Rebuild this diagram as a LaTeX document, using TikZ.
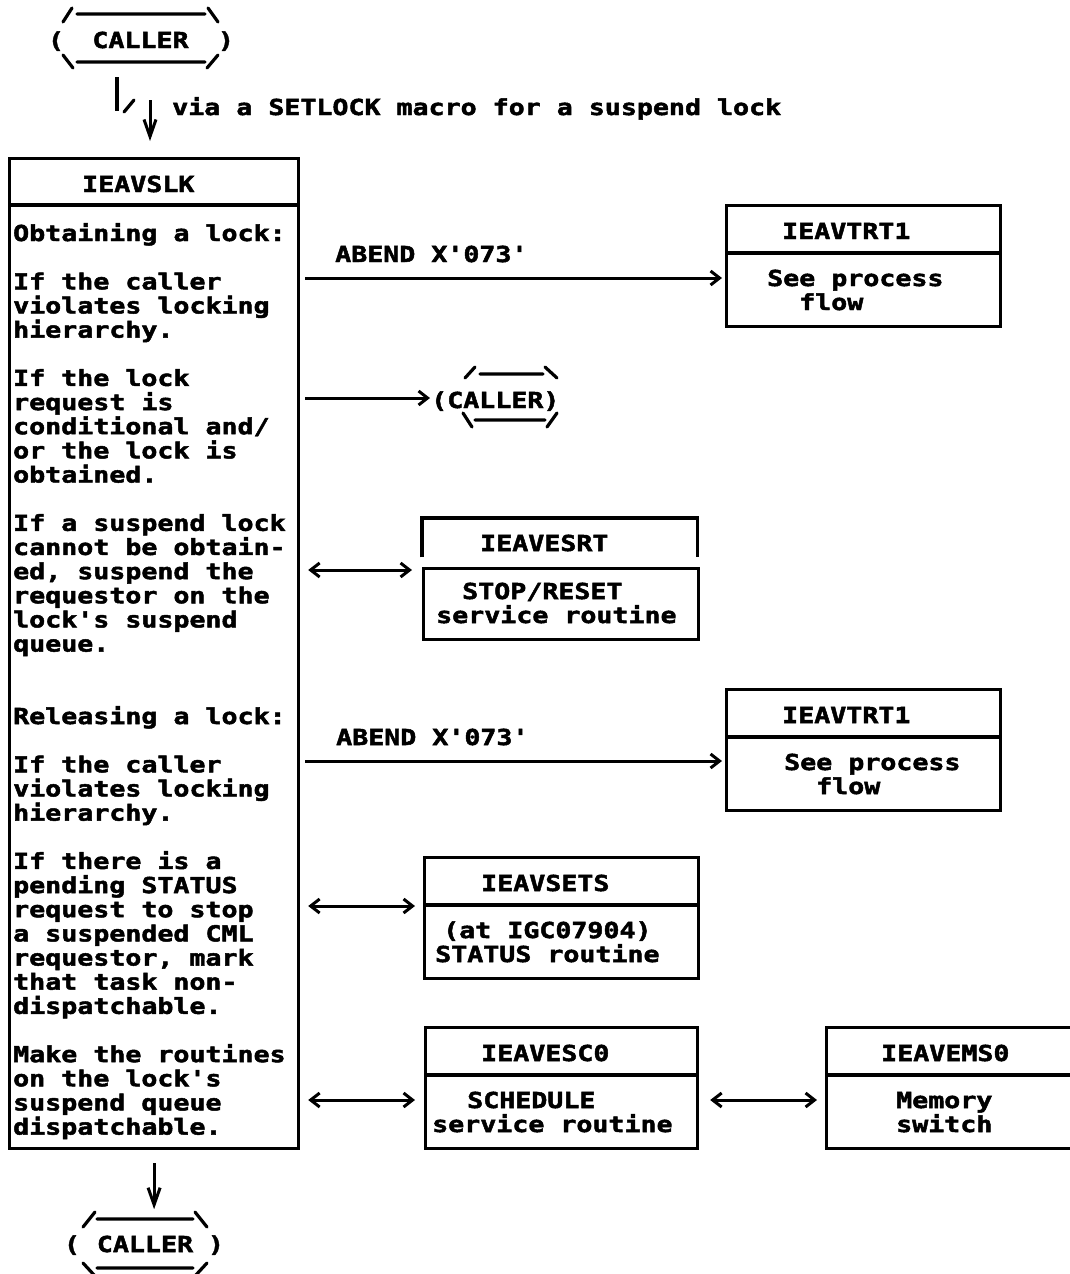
\documentclass[tikz,border=0pt]{standalone}
\usepackage{fontspec}
\usetikzlibrary{arrows.meta,calc}
\newfontfamily\chartmono[FakeStretch=1.21, BoldFeatures={FakeBold=2.2}]{DejaVu Sans Mono}
\begin{document}
\begin{tikzpicture}[x=1pt,y=-1pt,
  txt/.style={font=\chartmono\bfseries\fontsize{22}{24}\selectfont, inner sep=0pt, anchor=base west},
  frame/.style={draw, line width=3.2pt, inner sep=0pt, anchor=north west},
  rule/.style={line width=3.2pt, line join=miter},
  hex/.style={line width=3.2pt, line cap=round},
  arr/.style={line width=3pt, -{Straight Barb[length=9pt,width=14pt]}},
  darr/.style={line width=3pt, {Straight Barb[length=9pt,width=14pt]}-{Straight Barb[length=9pt,width=14pt]}},
  varr/.style={line width=3pt, -{Straight Barb[length=17pt,width=12pt]}}
]
\useasboundingbox (0,0) rectangle (1069,1274);

% ---- caller at the top
\node[txt, anchor=base] (callerTop) at (140.5,48) {CALLER};
\node[txt, anchor=base] (callerTopL) at (56,48) {(};
\node[txt, anchor=base] (callerTopR) at (226,48) {)};
\draw[hex] (63,22) -- (72,8) (77,14) -- (205,14) (208,8) -- (218,22)
           (63,55) -- (73,68) (77,62) -- (205,62) (207,68) -- (218,55);

% ---- entry via SETLOCK
\coordinate (entryA) at (117,77);
\draw[rule] (entryA) -- ++(0,34);
\draw[hex] (124,112) -- (134,100);
\coordinate (entryB) at (150,100);
\draw[varr] (entryB) -- ++(0,41);
\node[txt] (viaNote) at (172,115) {via a SETLOCK macro for a suspend lock};

% ---- IEAVSLK
\node[frame, minimum width=289pt, minimum height=990pt] (slk) at (8,157) {};
\draw[rule] ($(slk.north west)+(0,48)$) -- ($(slk.north east)+(0,48)$);
\node[txt] (slkName) at (82,192) {IEAVSLK};
\foreach \n/\s in {0/{Obtaining a lock:},
  2/{If the caller}, 3/{violates locking}, 4/{hierarchy.},
  6/{If the lock}, 7/{request is}, 8/{conditional and/}, 9/{or the lock is}, 10/{obtained.},
  12/{If a suspend lock}, 13/{cannot be obtain-}, 14/{ed, suspend the}, 15/{requestor on the}, 16/{lock's suspend}, 17/{queue.},
  20/{Releasing a lock:},
  22/{If the caller}, 23/{violates locking}, 24/{hierarchy.},
  26/{If there is a}, 27/{pending STATUS}, 28/{request to stop}, 29/{a suspended CML}, 30/{requestor, mark}, 31/{that task non-}, 32/{dispatchable.},
  34/{Make the routines}, 35/{on the lock's}, 36/{suspend queue}, 37/{dispatchable.}}
  \node[txt, name=slkLine\n] at (13,{241+24.15*\n}) {\s};

% ---- IEAVTRT1 (obtaining)
\node[frame, minimum width=274pt, minimum height=121pt] (trtA) at (725,204) {};
\draw[rule] ($(trtA.north west)+(0,49)$) -- ($(trtA.north east)+(0,49)$);
\node[txt] (trtAName) at (782,239) {IEAVTRT1};
\node[txt] (trtABodyA) at (767,286) {See process};
\node[txt] (trtABodyB) at (799,310) {flow};
\coordinate (abendAY) at (0,278);
\draw[arr] ([xshift=5pt]slk.east |- abendAY) -- ([xshift=-3pt]trtA.west |- abendAY);
\node[txt] (abendAText) at (335,262) {ABEND X'073'};

% ---- return to caller
\node[txt] (callerMid) at (431,408) {(CALLER)};
\coordinate (callerMidY) at (0,398);
\draw[arr] ([xshift=5pt]slk.east |- callerMidY) -- ([xshift=-1pt]callerMid.west |- callerMidY);
\draw[hex] (465,378) -- (475,367) (480,374) -- (543,374) (545,367) -- (557,378)
           (463,413) -- (472,427) (475,420) -- (545,420) (547,427) -- (557,413);

% ---- IEAVESRT (header left open at the bottom)
\node[inner sep=0pt, anchor=north west, minimum width=275pt, minimum height=39pt] (esrtHead) at (422,518) {};
\draw[rule] (esrtHead.south west) |- (esrtHead.north east) -- (esrtHead.south east);
\node[frame, minimum width=275pt, minimum height=71pt] (esrt) at (422,567) {};
\node[txt] (esrtName) at (480,551) {IEAVESRT};
\node[txt] (esrtBodyA) at (462,599) {STOP/RESET};
\node[txt] (esrtBodyB) at (436,623) {service routine};
\coordinate (esrtY) at (0,570);
\draw[darr] ([xshift=8pt]slk.east |- esrtY) -- ([xshift=-10pt]esrt.west |- esrtY);

% ---- IEAVTRT1 (releasing)
\node[frame, minimum width=274pt, minimum height=121pt] (trtB) at (725,688) {};
\draw[rule] ($(trtB.north west)+(0,49)$) -- ($(trtB.north east)+(0,49)$);
\node[txt] (trtBName) at (782,723) {IEAVTRT1};
\node[txt] (trtBBodyA) at (784,770) {See process};
\node[txt] (trtBBodyB) at (816,794) {flow};
\coordinate (abendBY) at (0,761);
\draw[arr] ([xshift=5pt]slk.east |- abendBY) -- ([xshift=-3pt]trtB.west |- abendBY);
\node[txt] (abendBText) at (336,745) {ABEND X'073'};

% ---- IEAVSETS
\node[frame, minimum width=274pt, minimum height=121pt] (sets) at (423,856) {};
\draw[rule] ($(sets.north west)+(0,49)$) -- ($(sets.north east)+(0,49)$);
\node[txt] (setsName) at (481,891) {IEAVSETS};
\node[txt] (setsBodyA) at (443,938) {(at IGC07904)};
\node[txt] (setsBodyB) at (435,962) {STATUS routine};
\coordinate (setsY) at (0,906);
\draw[darr] ([xshift=8pt]slk.east |- setsY) -- ([xshift=-8pt]sets.west |- setsY);

% ---- IEAVESC0
\node[frame, minimum width=272pt, minimum height=121pt] (esco) at (424,1026) {};
\draw[rule] ($(esco.north west)+(0,49)$) -- ($(esco.north east)+(0,49)$);
\node[txt] (escoName) at (481,1061) {IEAVESC0};
\node[txt] (escoBodyA) at (467,1108) {SCHEDULE};
\node[txt] (escoBodyB) at (432,1132) {service routine};
\coordinate (escoY) at (0,1100);
\draw[darr] ([xshift=8pt]slk.east |- escoY) -- ([xshift=-9pt]esco.west |- escoY);

% ---- IEAVEMS0
\node[frame, minimum width=250pt, minimum height=121pt] (emso) at (825,1026) {};
\draw[rule] ($(emso.north west)+(0,49)$) -- ($(emso.north east)+(0,49)$);
\node[txt] (emsoName) at (881,1061) {IEAVEMS0};
\node[txt] (emsoBodyA) at (896,1108) {Memory};
\node[txt] (emsoBodyB) at (896,1132) {switch};
\draw[darr] ([xshift=11pt]esco.east |- escoY) -- ([xshift=-8pt]emso.west |- escoY);

% ---- back to the caller
\draw[varr] ($(slk.south)+(0,13)$) -- ($(slk.south)+(0,59)$);
\node[txt, anchor=base] (callerBot) at (145,1252) {CALLER};
\node[txt, anchor=base] (callerBotL) at (72,1252) {(};
\node[txt, anchor=base] (callerBotR) at (216,1252) {)};
\draw[hex] (83,1227) -- (95,1212) (97,1219) -- (193,1219) (195,1212) -- (207,1227)
           (83,1263) -- (95,1276) (97,1268) -- (193,1268) (195,1276) -- (207,1263);
\end{tikzpicture}
\end{document}
